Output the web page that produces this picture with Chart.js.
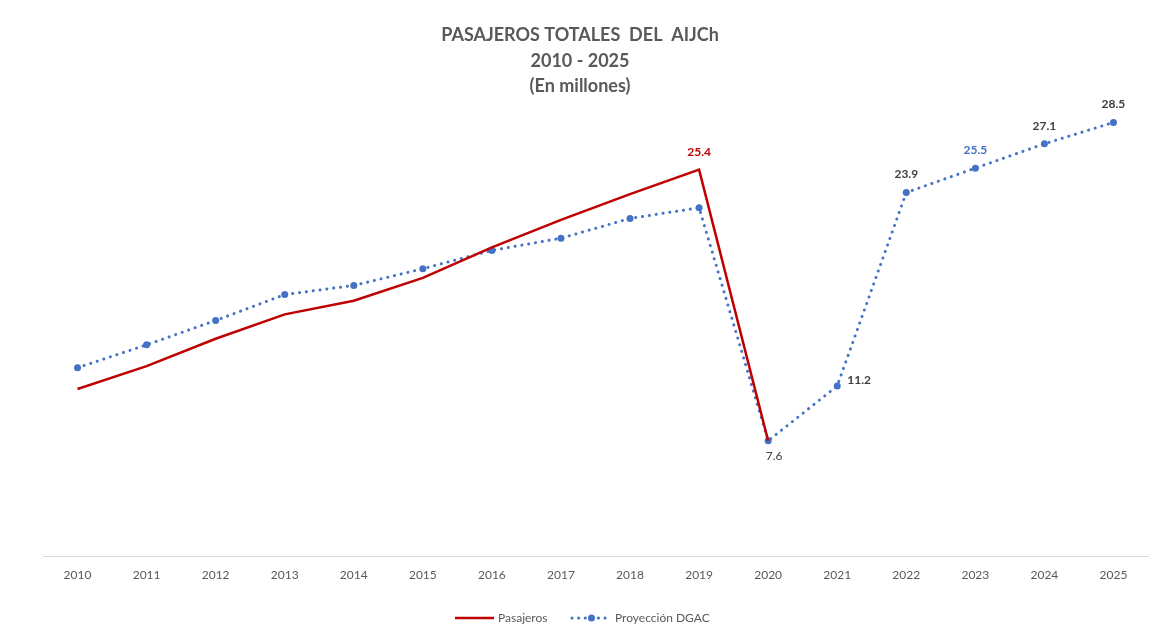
<!DOCTYPE html>
<html><head><meta charset="utf-8">
<script src="https://cdn.jsdelivr.net/npm/chart.js@4.4.1/dist/chart.umd.min.js"></script>
<style>html,body{margin:0;padding:0;background:#fff;}#wrap{width:1152px;height:635px;}</style>
</head><body><div id="wrap"><canvas id="c" width="1152" height="635"></canvas></div>
<script>
const years = ['2010','2011','2012','2013','2014','2015','2016','2017','2018','2019','2020','2021','2022','2023','2024','2025'];
const pasajeros = [11.0,12.5,14.3,15.9,16.8,18.3,20.3,22.1,23.8,25.4,7.6,null,null,null,null,null];
const proyeccionDGAC = [12.4,13.9,15.5,17.2,17.8,18.9,20.1,20.9,22.2,22.9,7.6,11.2,23.9,25.5,27.1,28.5];
const titleLines = ['PASAJEROS TOTALES  DEL  AIJCh','2010 - 2025','(En millones)'];
const FONT = "Lato, 'Open Sans', sans-serif";

// labels: [datasetIndex, pointIndex, text, color, bold, dx, dy]
const labelSpecs = [
  [0, 9, '25.4', '#C00000', true, 0, -18],
  [1, 10, '7.6', '#404040', false, 6, 15],
  [1, 11, '11.2', '#404040', true, 22, -6],
  [1, 12, '23.9', '#404040', true, 0, -18],
  [1, 13, '25.5', '#4472C4', true, 0, -18],
  [1, 14, '27.1', '#404040', true, 0, -18],
  [1, 15, '28.5', '#404040', true, 0, -18]
];

const labelPlugin = {
  id: 'labels',
  afterDatasetsDraw(chart) {
    const ctx = chart.ctx;
    ctx.save();
    ctx.textAlign = 'center';
    ctx.textBaseline = 'middle';
    labelSpecs.forEach(s => {
      const pt = chart.getDatasetMeta(s[0]).data[s[1]];
      ctx.font = (s[4] ? 'bold ' : '') + '12px ' + FONT;
      ctx.fillStyle = s[3];
      ctx.fillText(s[2], pt.x + s[5], pt.y + s[6]);
    });
    ctx.restore();
  },
  afterDraw(chart) {
    const ctx = chart.ctx;
    const y = 618;
    ctx.save();
    ctx.font = '12px ' + FONT;
    ctx.textBaseline = 'middle';
    ctx.textAlign = 'left';
    ctx.strokeStyle = '#C00000'; ctx.lineWidth = 2.5;
    ctx.beginPath(); ctx.moveTo(455, y); ctx.lineTo(494, y); ctx.stroke();
    ctx.fillStyle = '#595959';
    ctx.fillText(chart.data.datasets[0].label, 498, y);
    ctx.strokeStyle = '#4472C4'; ctx.lineWidth = 3; ctx.lineCap = 'round';
    ctx.setLineDash([0.1, 6.5]);
    ctx.beginPath(); ctx.moveTo(572, y); ctx.lineTo(611, y); ctx.stroke();
    ctx.setLineDash([]);
    ctx.fillStyle = '#4472C4';
    ctx.beginPath(); ctx.arc(591.5, y, 3.5, 0, Math.PI * 2); ctx.fill();
    ctx.fillStyle = '#595959';
    ctx.fillText(chart.data.datasets[1].label, 615, y);
    ctx.restore();
  }
};

new Chart(document.getElementById('c'), {
  type: 'line',
  data: {
    labels: years,
    datasets: [
      {
        label: 'Pasajeros',
        data: pasajeros,
        borderColor: '#C00000',
        backgroundColor: '#C00000',
        borderWidth: 2.5,
        pointRadius: 0,
        pointHoverRadius: 0,
        spanGaps: false,
        tension: 0
      },
      {
        label: 'Proyección DGAC',
        data: proyeccionDGAC,
        borderColor: '#4472C4',
        backgroundColor: '#4472C4',
        borderWidth: 3,
        borderDash: [0.1, 6.8],
        borderCapStyle: 'round',
        pointRadius: 3.5,
        pointBackgroundColor: '#4472C4',
        pointBorderWidth: 0,
        tension: 0
      }
    ]
  },
  options: {
    responsive: false,
    animation: false,
    devicePixelRatio: 1,
    layout: { padding: { left: 8, right: 0, top: 0, bottom: 42 } },
    plugins: {
      legend: { display: false },
      tooltip: { enabled: false },
      title: {
        display: true,
        text: titleLines,
        color: '#595959',
        font: { family: FONT, size: 18, weight: 'bold', lineHeight: 1.4 },
        padding: { top: 23, bottom: 1 }
      }
    },
    scales: {
      x: {
        offset: true,
        grid: { display: false, drawTicks: false },
        border: { display: true, color: '#D9D9D9', width: 1 },
        ticks: { color: '#595959', font: { family: FONT, size: 12 }, padding: 11, maxRotation: 0, autoSkip: false }
      },
      y: {
        display: true,
        min: 0,
        max: 30,
        grid: { display: false, drawTicks: false },
        border: { display: false },
        ticks: { display: false },
        afterFit(scale) { scale.width = 35; }
      }
    }
  },
  plugins: [labelPlugin]
});
</script></body></html>
